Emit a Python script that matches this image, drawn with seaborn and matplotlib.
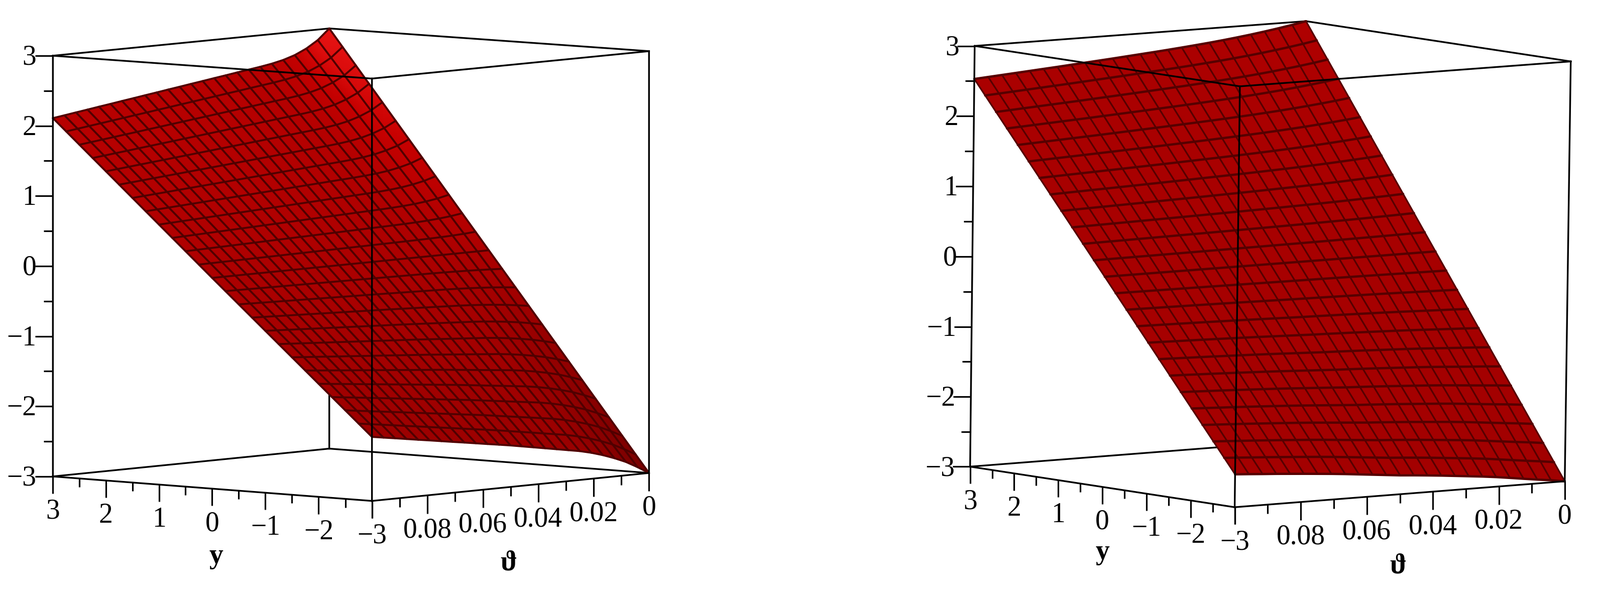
import numpy as np
import matplotlib
matplotlib.use("Agg")
import matplotlib.pyplot as plt
import seaborn as sns

# ---------- data ----------
theta_grid = np.arange(25) * 0.1 / 24          # 25 surface points in theta
y_grid = np.linspace(3, -3, 25)                # 25 surface points in y
y_stations = [3, 0, -3]

left_z_y3 = [3.000, 2.850, 2.745, 2.668, 2.615, 2.578, 2.550, 2.526, 2.502, 2.477, 2.453, 2.428, 2.404,
             2.379, 2.355, 2.330, 2.306, 2.281, 2.257, 2.232, 2.208, 2.183, 2.159, 2.134, 2.110]
left_z_y0 = [0.00] * 25
left_z_ym3 = [-3.000, -2.900, -2.810, -2.740, -2.680, -2.630, -2.590, -2.560, -2.530, -2.500, -2.470, -2.440, -2.410,
              -2.383, -2.357, -2.330, -2.303, -2.277, -2.250, -2.223, -2.197, -2.170, -2.143, -2.117, -2.090]

right_z_y3 = [3.000, 2.962, 2.928, 2.897, 2.868, 2.842, 2.818, 2.796, 2.776, 2.757, 2.739, 2.722, 2.706,
              2.690, 2.674, 2.659, 2.644, 2.629, 2.614, 2.600, 2.586, 2.572, 2.558, 2.544, 2.530]
right_z_y0 = [0.00] * 25
right_z_ym3 = [-3.000, -2.970, -2.945, -2.918, -2.890, -2.863, -2.840, -2.820, -2.800, -2.780, -2.762, -2.745, -2.730,
               -2.710, -2.690, -2.670, -2.650, -2.632, -2.616, -2.600, -2.585, -2.570, -2.557, -2.543, -2.530]

z_major = [3, 2, 1, 0, -1, -2, -3]
z_minor = [2.5, 1.5, 0.5, -0.5, -1.5, -2.5]
y_major = [3, 2, 1, 0, -1, -2, -3]
y_minor = [2.5, 1.5, 0.5, -0.5, -1.5, -2.5]
theta_major = [0.08, 0.06, 0.04, 0.02, 0]
theta_minor = [0.09, 0.07, 0.05, 0.03, 0.01]
theta_labels = ["0.08", "0.06", "0.04", "0.02", "0"]

# ---------- camera anchors: pixel position of box corners (y, theta, z) ----------
left_corners = {(3, .1, 3): (105, 111), (3, 0, 3): (656, 57), (-3, 0, 3): (1292, 101), (-3, .1, 3): (741, 157),
                (3, .1, -3): (105, 948), (3, 0, -3): (656, 894), (-3, 0, -3): (1292, 942), (-3, .1, -3): (741, 998)}
right_corners = {(3, .1, 3): (1941, 91), (3, 0, 3): (2600, 43), (-3, 0, 3): (3128, 121), (-3, .1, 3): (2469, 173),
                 (3, .1, -3): (1931, 928), (3, 0, -3): (2591, 879), (-3, 0, -3): (3115, 958), (-3, .1, -3): (2459, 1011)}

sns.set_theme(style="white")
plt.rcParams["font.family"] = ["Liberation Serif", "DejaVu Serif"]
shade_cmap = sns.blend_palette(["#6e0000", "#900000", "#b00000", "#c60000", "#ee1818"], as_cmap=True)

fig = plt.figure(figsize=(31.86, 11.87), dpi=100, facecolor="white")
ax = fig.add_axes([0, 0, 1, 1])
ax.set_xlim(0, 3186)
ax.set_ylim(1187, 0)
ax.axis("off")

PX = 0.72
FS = 40


def camera(corners):
    rows = []
    for (y, t, z), (px, py) in corners.items():
        X = [y / 3, t / .1, z / 3, 1]
        rows.append(X + [0, 0, 0, 0] + [-px * c for c in X])
        rows.append([0, 0, 0, 0] + X + [-py * c for c in X])
    return np.linalg.svd(np.array(rows, float))[2][-1].reshape(3, 4)


def project(P, y, t, z):
    y, t, z = np.broadcast_arrays(np.asarray(y, float), np.asarray(t, float), np.asarray(z, float))
    h = P[0:3, 0:3] @ np.stack([y.ravel() / 3, t.ravel() / .1, z.ravel() / 3]) + P[:, 3:4]
    return (h[0] / h[2]).reshape(y.shape), (h[1] / h[2]).reshape(y.shape)


def panel(corners, z3, z0, zm3, shade0, shade_gain, lw_y, lw_t, grid_color, ylab_pos, tlab_pos, z_label_x):
    P = camera(corners)
    table = np.array([z3, z0, zm3])
    Z = np.array([np.interp(-y_grid, -np.array(y_stations, float), table[:, j]) for j in range(25)]).T
    YY, TT = np.meshgrid(y_grid, theta_grid, indexing="ij")
    X_px, Y_px = project(P, YY, TT, Z)

    # shading from the surface normal in box units
    dz_dt = np.gradient(Z / 3, theta_grid / .1, axis=1)
    dz_dy = np.gradient(Z / 3, y_grid / 3, axis=0)
    norm = np.sqrt(dz_dt ** 2 + dz_dy ** 2 + 1)
    shade = np.clip(shade0 - shade_gain * dz_dt / norm, 0, 1)
    ax.pcolormesh(X_px, Y_px, shade, cmap=shade_cmap, vmin=0, vmax=1, shading="gouraud", zorder=2)

    for i in range(25):
        ax.plot(X_px[i], Y_px[i], color=grid_color, lw=lw_y * PX, zorder=3, solid_capstyle="round")
    for j in range(25):
        ax.plot(X_px[:, j], Y_px[:, j], color=grid_color, lw=lw_t * PX, zorder=3, solid_capstyle="round")

    def edge(a, b, zo):
        xs, ys = project(P, [a[0], b[0]], [a[1], b[1]], [a[2], b[2]])
        ax.plot(xs, ys, color="black", lw=3.4 * PX, zorder=zo, solid_capstyle="projecting")

    # rear edges pass behind the surface
    edge((3, 0, -3), (3, 0, 3), 1)
    edge((3, 0, -3), (3, .1, -3), 1)
    edge((3, 0, -3), (-3, 0, -3), 1)
    # remaining box edges
    edge((3, .1, 3), (3, 0, 3), 1.5)
    edge((3, 0, 3), (-3, 0, 3), 1.5)
    edge((3, .1, 3), (-3, .1, 3), 4)
    edge((-3, .1, 3), (-3, 0, 3), 4)
    edge((3, .1, -3), (3, .1, 3), 4)
    edge((-3, 0, -3), (-3, 0, 3), 4)
    edge((-3, .1, -3), (-3, .1, 3), 4)
    edge((3, .1, -3), (-3, .1, -3), 4)
    edge((-3, .1, -3), (-3, 0, -3), 4)

    def down_tick(px, py, length):
        ax.plot([px, px], [py, py + length], color="black", lw=3.2 * PX, zorder=4, solid_capstyle="butt")

    # y axis
    for v in y_major:
        px, py = project(P, v, .1, -3)
        down_tick(px, py, 34)
        txt = str(v).replace("-", "\u2212")
        ax.text(px, py + 34 + 36, txt, ha="center", va="center", fontsize=FS, color="black", zorder=5)
    for v in y_minor:
        px, py = project(P, v, .1, -3)
        down_tick(px, py, 17)

    # theta axis
    for v, lab in zip(theta_major, theta_labels):
        px, py = project(P, -3, v, -3)
        down_tick(px, py, 36)
        ax.text(px, py + 36 + 34, lab, ha="center", va="center", fontsize=FS, color="black", zorder=5)
    px, py = project(P, -3, .1, -3)
    down_tick(px, py, 34)
    for v in theta_minor:
        px, py = project(P, -3, v, -3)
        down_tick(px, py, 18)

    # z axis
    for v in z_major:
        px, py = project(P, 3, .1, v)
        ax.plot([px - 35, px], [py, py], color="black", lw=3.2 * PX, zorder=4, solid_capstyle="butt")
        txt = str(v).replace("-", "\u2212")
        ax.text(px - z_label_x, py + 4, txt, ha="right", va="center", fontsize=FS, color="black", zorder=5)
    for v in z_minor:
        px, py = project(P, 3, .1, v)
        ax.plot([px - 18, px], [py, py], color="black", lw=3.2 * PX, zorder=4, solid_capstyle="butt")

    ax.text(*ylab_pos, "y", ha="center", va="center", fontsize=FS, fontweight="bold", color="black", zorder=5)
    ax.text(*tlab_pos, "\u03d1", ha="center", va="center", fontsize=FS, fontweight="bold", color="black", zorder=5)


panel(left_corners, left_z_y3, left_z_y0, left_z_ym3, 0.47, 0.75, 3.8, 3.8, "#500000",
      (430, 1108), (1013, 1121), 33)
panel(right_corners, right_z_y3, right_z_y0, right_z_ym3, 0.43, 0.30, 4.6, 3.2, "#560000",
      (2195, 1100), (2784, 1128), 31)

fig.savefig("out.png", dpi=100, facecolor="white")
